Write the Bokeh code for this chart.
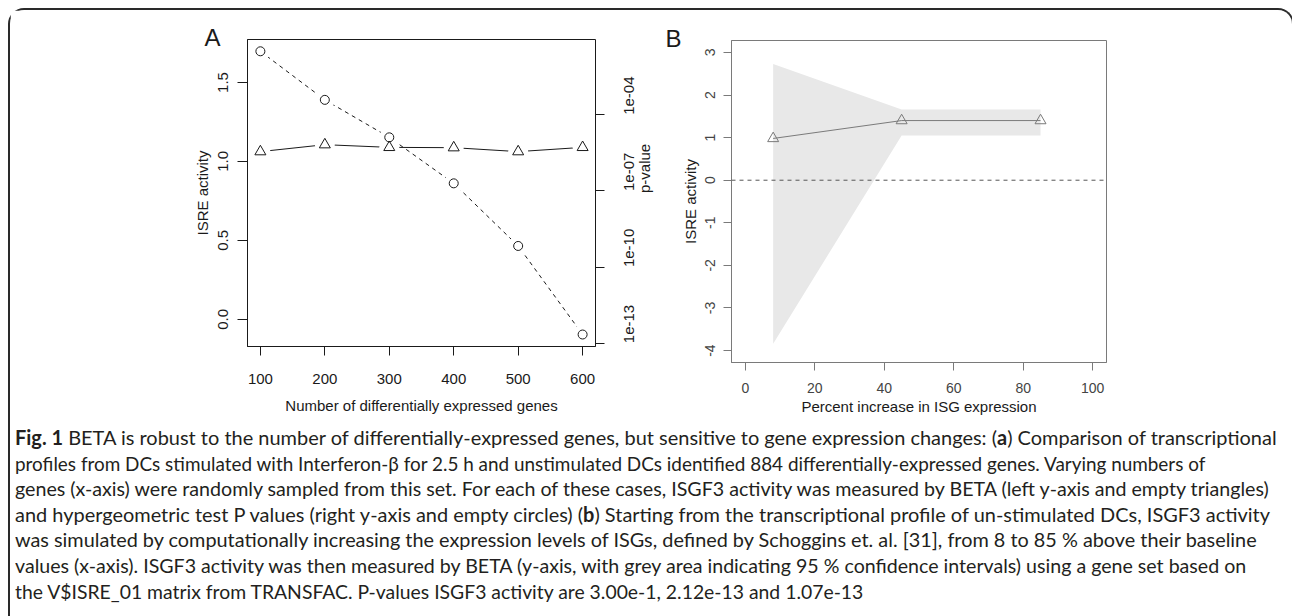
import math
from bokeh.plotting import figure
from bokeh.layouts import column, row
from bokeh.models import (Range1d, LogScale, LogAxis, FixedTicker, CustomJSTickFormatter,
                          PrintfTickFormatter, ColumnDataSource, Whisker, TeeHead, Span, Div)
from bokeh.embed import file_html
from bokeh.resources import INLINE

# ---------------- data: panel A ----------------
n_genes = [100, 200, 300, 400, 500, 600]
isre_activity = [1.062, 1.106, 1.089, 1.087, 1.062, 1.089]
isre_lower = [1.037, 1.081, 1.060, 1.067, 1.042, 1.069]
isre_upper = [1.087, 1.131, 1.120, 1.107, 1.082, 1.109]
p_values = [3.2e-2, 3.9e-4, 1.3e-5, 2.0e-7, 6.8e-10, 2.2e-13]
p_lower = [2.2e-2, 2.7e-4, 6.8e-6, 1.05e-7, 4.3e-10, 1.7e-13]
p_upper = [4.7e-2, 5.6e-4, 2.0e-5, 3.8e-7, 1.1e-9, 2.95e-13]
a_xticks = [100, 200, 300, 400, 500, 600]
a_yticks = [0.0, 0.5, 1.0, 1.5]
a_pticks = [1e-13, 1e-10, 1e-7, 1e-4]

# ---------------- data: panel B ----------------
pct_increase = [8, 45, 85]
isre_b = [0.98, 1.40, 1.40]
ci_lower = [-3.84, 1.05, 1.05]
ci_upper = [2.73, 1.66, 1.66]
b_xticks = [0, 20, 40, 60, 80, 100]
b_yticks = [-4, -3, -2, -1, 0, 1, 2, 3]

FONT = "Liberation Sans"
INK = "#1a1a1a"
GREY = "#7a7a7a"

# ================= Panel A =================
pA = figure(width=654, height=410, x_range=Range1d(80, 620), y_range=Range1d(-0.172, 1.772),
            output_backend="svg", toolbar_location=None,
            min_border_left=237, min_border_right=69, min_border_top=29, min_border_bottom=74,
            extra_y_ranges={"p": Range1d(10 ** -13.13, 10 ** -1.03)},
            extra_y_scales={"p": LogScale()})
pA.frame_align = False
pA.grid.visible = False
pA.outline_line_color = INK
pA.outline_line_width = 1

srcA = ColumnDataSource(dict(x=n_genes, y=isre_activity, lo=isre_lower, hi=isre_upper,
                             p=p_values, plo=p_lower, phi=p_upper))

pA.line("x", "p", source=srcA, y_range_name="p", line_color=INK, line_dash="4 4", line_width=1)
pA.line("x", "y", source=srcA, line_color=INK, line_width=1)
# gaps around the points (R type="b")
pA.scatter("x", "p", source=srcA, y_range_name="p", marker="circle", size=20,
           fill_color="white", line_color=None)
pA.scatter("x", "y", source=srcA, marker="circle", size=20, fill_color="white", line_color=None)

pA.add_layout(Whisker(source=srcA, base="x", lower="lo", upper="hi", line_color=INK,
                      lower_head=TeeHead(size=9, line_color=INK),
                      upper_head=TeeHead(size=9, line_color=INK)))
pA.add_layout(Whisker(source=srcA, base="x", lower="plo", upper="phi", line_color=INK,
                      y_range_name="p",
                      lower_head=TeeHead(size=9, line_color=INK),
                      upper_head=TeeHead(size=9, line_color=INK)))

pA.scatter("x", "y", source=srcA, marker="triangle", size=11, fill_color=None,
           line_color=INK, line_width=1)
pA.scatter("x", "p", source=srcA, y_range_name="p", marker="circle", size=9, fill_color=None,
           line_color=INK, line_width=1)

pA.xaxis.ticker = FixedTicker(ticks=a_xticks)
pA.yaxis.ticker = FixedTicker(ticks=a_yticks)
pA.yaxis.formatter = PrintfTickFormatter(format="%.1f")
pA.xaxis.axis_label = "Number of differentially expressed genes"
pA.yaxis.axis_label = "ISRE activity"

rightA = LogAxis(y_range_name="p", ticker=FixedTicker(ticks=a_pticks), bounds=(1e-13, 1e-4),
                 axis_label="p-value",
                 formatter=CustomJSTickFormatter(code="""
                    const e = Math.round(Math.log10(tick));
                    const a = Math.abs(e);
                    return '1e' + (e < 0 ? '-' : '+') + (a < 10 ? '0' + a : '' + a);
                 """))
pA.add_layout(rightA, "right")

for ax in [pA.xaxis[0], pA.yaxis[0], rightA]:
    ax.major_tick_in = 0
    ax.major_tick_out = 10
    ax.minor_tick_line_color = None
    ax.axis_line_color = INK
    ax.major_tick_line_color = INK
    ax.major_label_text_font = FONT
    ax.major_label_text_font_size = "15px"
    ax.major_label_text_color = INK
    ax.axis_label_text_font = FONT
    ax.axis_label_text_font_size = "15px"
    ax.axis_label_text_font_style = "normal"
    ax.axis_label_text_color = INK

pA.xaxis.major_tick_out = 9
pA.xaxis.major_label_standoff = 18
pA.xaxis.axis_label_standoff = 10
pA.yaxis.major_label_orientation = "parallel"
pA.yaxis.major_label_standoff = 9
pA.yaxis.axis_label_standoff = 5
rightA.major_label_orientation = math.pi / 2
rightA.major_label_standoff = 25
rightA.major_tick_out = 9
rightA.axis_label_standoff = 2
if "axis_label_orientation" in rightA.properties():
    rightA.axis_label_orientation = math.pi / 2

pA.title.text = "A"
pA.title.align = "left"
pA.title.vertical_align = "bottom"
pA.title.offset = -43
pA.title.standoff = -22
pA.title.text_font = FONT
pA.title.text_font_size = "24px"
pA.title.text_font_style = "normal"
pA.title.text_color = INK

# ================= Panel B =================
pB = figure(width=618, height=410, x_range=Range1d(-4, 104), y_range=Range1d(-4.28, 3.28),
            output_backend="svg", toolbar_location=None,
            min_border_left=67, min_border_right=176, min_border_top=30, min_border_bottom=58)
pB.frame_align = False
pB.grid.visible = False
pB.outline_line_color = GREY
pB.outline_line_width = 1

srcB = ColumnDataSource(dict(x=pct_increase, y=isre_b, lo=ci_lower, hi=ci_upper))
pB.varea(x="x", y1="lo", y2="hi", source=srcB, fill_color="#e8e8e8")
pB.add_layout(Span(location=0, dimension="width", line_color="#555555", line_dash="4 4",
                   line_width=1))
pB.line("x", "y", source=srcB, line_color=GREY, line_width=1)
pB.scatter("x", "y", source=srcB, marker="triangle", size=11, fill_color=None,
           line_color=GREY, line_width=1)

pB.xaxis.ticker = FixedTicker(ticks=b_xticks)
pB.yaxis.ticker = FixedTicker(ticks=b_yticks)
plain = CustomJSTickFormatter(code="return String(tick);")
pB.yaxis.formatter = plain
pB.xaxis.axis_label = "Percent increase in ISG expression"
pB.yaxis.axis_label = "ISRE activity"
for ax in [pB.xaxis[0], pB.yaxis[0]]:
    ax.major_tick_in = 0
    ax.major_tick_out = 8
    ax.minor_tick_line_color = None
    ax.axis_line_color = GREY
    ax.major_tick_line_color = GREY
    ax.major_label_text_font = FONT
    ax.major_label_text_font_size = "14px"
    ax.major_label_text_color = "#444444"
    ax.axis_label_text_font = FONT
    ax.axis_label_text_font_size = "15px"
    ax.axis_label_text_font_style = "normal"
    ax.axis_label_text_color = INK
pB.yaxis.major_label_orientation = "parallel"
pB.yaxis.major_label_standoff = 8
pB.yaxis.axis_label_standoff = 4
pB.xaxis.major_label_standoff = 12
pB.xaxis.axis_label_standoff = 2

pB.title.text = "B"
pB.title.align = "left"
pB.title.vertical_align = "bottom"
pB.title.offset = -66
pB.title.standoff = -22
pB.title.text_font = FONT
pB.title.text_font_size = "24px"
pB.title.text_font_style = "normal"
pB.title.text_color = INK

# ================= Caption =================
caption_lines = [
    "<b>Fig. 1</b> BETA is robust to the number of differentially-expressed genes, but sensitive to gene expression changes: (<b>a</b>) Comparison of transcriptional",
    "profiles from DCs stimulated with Interferon-β for 2.5 h and unstimulated DCs identified 884 differentially-expressed genes. Varying numbers of",
    "genes (x-axis) were randomly sampled from this set. For each of these cases, ISGF3 activity was measured by BETA (left y-axis and empty triangles)",
    "and hypergeometric test P values (right y-axis and empty circles) (<b>b</b>) Starting from the transcriptional profile of un-stimulated DCs, ISGF3 activity",
    "was simulated by computationally increasing the expression levels of ISGs, defined by Schoggins et. al. [31], from 8 to 85 % above their baseline",
    "values (x-axis). ISGF3 activity was then measured by BETA (y-axis, with grey area indicating 95 % confidence intervals) using a gene set based on",
    "the V$ISRE_01 matrix from TRANSFAC. P-values ISGF3 activity are 3.00e-1, 2.12e-13 and 1.07e-13",
]
# horizontal squeeze per caption line (typesetting only)
line_squeeze = [0.998, 0.945, 0.982, 0.997, 0.992, 0.980, 0.968]

line_divs = "".join(
    '<div style="white-space: nowrap; height: 25.6px; line-height: 25.6px; '
    'transform: scaleX(%.3f); transform-origin: 0 50%%;">%s</div>' % (s, t)
    for t, s in zip(caption_lines, line_squeeze))
cap_html = ('<div style="font-family: Lato; font-size: 20px; color: #231f20; '
            'padding-left: 0px; margin-left: 0px; padding-top: 0px; margin-top: 0px;">'
            + line_divs + "</div>")
cap = Div(text=cap_html, width=1272, height=186)

layout = column(row(pA, pB), cap, margin=(8, 0, 0, 8),
                styles={"border-top": "2px solid #2a2a2a", "border-left": "2px solid #2a2a2a",
                        "border-right": "2px solid #2a2a2a",
                        "border-radius": "16px 16px 0 0"})

open("out.html", "w").write(file_html(layout, INLINE))
